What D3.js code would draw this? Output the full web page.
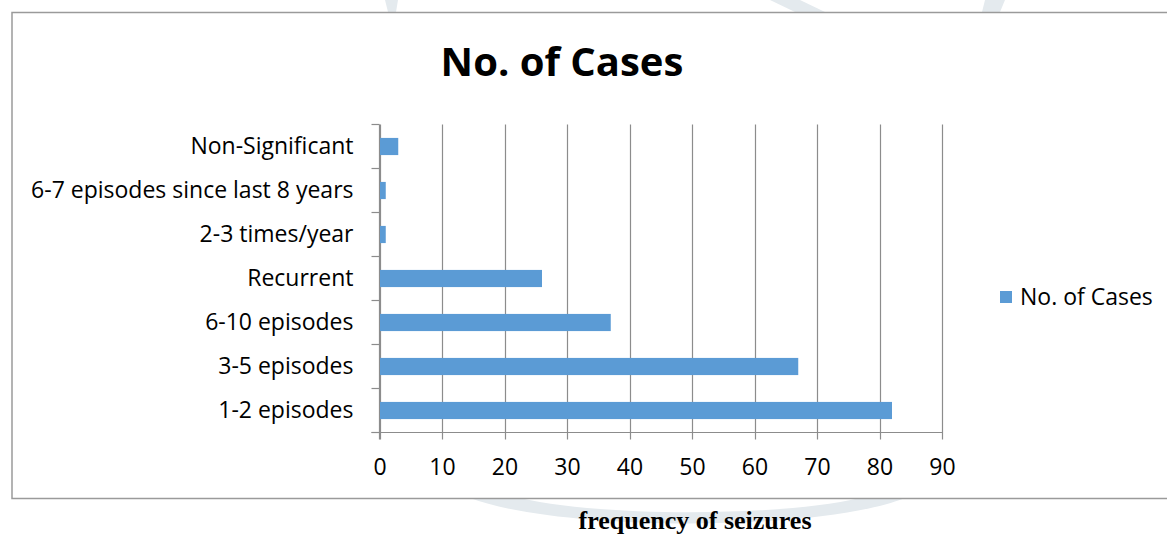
<!DOCTYPE html>
<html>
<head>
<meta charset="utf-8">
<script src="https://cdn.jsdelivr.net/npm/d3@7"></script>
<style>
  html, body { margin: 0; padding: 0; background: #fff; overflow: hidden; }
  svg { display: block; }
</style>
</head>
<body>
<script>
// Seizure frequency categories (top to bottom as drawn)
const categories = [
  "Non-Significant",
  "6-7 episodes since last 8 years",
  "2-3 times/year",
  "Recurrent",
  "6-10 episodes",
  "3-5 episodes",
  "1-2 episodes"
];
const cases = [3, 1, 1, 26, 37, 67, 82];
const xTicks = [0, 10, 20, 30, 40, 50, 60, 70, 80, 90];
const seriesName = "No. of Cases";
const chartTitle = "No. of Cases";
const caption = "frequency of seizures";

const W = 1167, H = 535;
const barColor = "#5b9bd5";
const gridColor = "#8c8c8c";
const labelFont = "'Open Sans', Lato, sans-serif";

const svg = d3.select("body").append("svg")
  .attr("width", W).attr("height", H);

// faint background emblem peeking out around the chart frame
const wm = svg.append("g").attr("fill", "#e4eaee");
wm.append("path").attr("d", "M470,498 C560,532 820,532 905,498 L860,498 C780,517 600,517 520,498 Z");
wm.append("path").attr("d", "M385,0 L398,0 L396,12 L388,12 Z");
wm.append("path").attr("d", "M770,0 L800,0 L825,12 L795,12 Z");
wm.append("path").attr("d", "M985,0 L1005,0 L1000,12 L982,12 Z");

// chart frame
svg.append("rect")
  .attr("x", 12).attr("y", 12.5)
  .attr("width", 1200).attr("height", 486)
  .attr("fill", "#fff")
  .attr("stroke", "#9a9a9a").attr("stroke-width", 1.5);

const plot = { left: 379.5, right: 942, top: 124.5, bottom: 432.5 };

const x = d3.scaleLinear().domain([0, 90]).range([plot.left, plot.right]);
const y = d3.scaleBand().domain(categories).range([plot.top, plot.bottom]).paddingInner(0.61).paddingOuter(0.305);
const yEdges = d3.scaleLinear().domain([0, categories.length]).range([plot.top, plot.bottom]);

// vertical gridlines with tick stubs below the axis
const gx = svg.append("g");
gx.selectAll("line").data(xTicks).join("line")
  .attr("x1", d => Math.round(x(d)) + 0.5).attr("x2", d => Math.round(x(d)) + 0.5)
  .attr("y1", plot.top).attr("y2", plot.bottom + 7)
  .attr("stroke", gridColor).attr("stroke-width", 1.2);

// bottom axis labels
const xAxis = d3.axisBottom(x).tickValues(xTicks).tickSize(0).tickPadding(0).tickFormat(d3.format("d"));
const xa = svg.append("g").attr("transform", `translate(0,${plot.bottom + 34})`).call(xAxis);
xa.select(".domain").remove();
xa.selectAll("text")
  .attr("font-family", labelFont).attr("font-size", 23).attr("fill", "#000")
  .attr("y", 0).attr("dy", "0.35em");

// bottom axis line
svg.append("line")
  .attr("x1", plot.left - 8).attr("x2", plot.right)
  .attr("y1", plot.bottom).attr("y2", plot.bottom)
  .attr("stroke", gridColor).attr("stroke-width", 1.2);

// left axis line and category boundary ticks
svg.append("line")
  .attr("x1", plot.left).attr("x2", plot.left)
  .attr("y1", plot.top).attr("y2", plot.bottom + 7)
  .attr("stroke", gridColor).attr("stroke-width", 1.2);
svg.append("g").selectAll("line").data(d3.range(categories.length + 1)).join("line")
  .attr("x1", plot.left - 8).attr("x2", plot.left)
  .attr("y1", d => yEdges(d)).attr("y2", d => yEdges(d))
  .attr("stroke", gridColor).attr("stroke-width", 1.2);

// bars
svg.append("g").selectAll("rect").data(categories).join("rect")
  .attr("x", x(0) + 0.5)
  .attr("y", d => y(d))
  .attr("width", (d, i) => x(cases[i]) - x(0) - 0.5)
  .attr("height", y.bandwidth())
  .attr("fill", barColor);

// category labels
const yAxis = d3.axisLeft(y).tickSize(0).tickPadding(26);
const ya = svg.append("g").attr("transform", `translate(${plot.left},0)`).call(yAxis);
ya.select(".domain").remove();
ya.selectAll("text")
  .attr("font-family", labelFont).attr("font-size", 23).attr("fill", "#000");

// title
svg.append("text")
  .attr("x", 562).attr("y", 76)
  .attr("text-anchor", "middle")
  .attr("font-family", labelFont).attr("font-weight", "bold").attr("font-size", 40)
  .attr("fill", "#000")
  .text(chartTitle);

// legend
const lg = svg.append("g").attr("transform", "translate(1000,291)");
lg.append("rect").attr("width", 12).attr("height", 12).attr("fill", barColor);
lg.append("text").attr("x", 20).attr("y", 6).attr("dy", "0.35em")
  .attr("font-family", labelFont).attr("font-size", 23).attr("fill", "#000")
  .text(seriesName);

// caption under the chart
svg.append("text")
  .attr("x", 695).attr("y", 529)
  .attr("text-anchor", "middle")
  .attr("font-family", "'Liberation Serif', 'Times New Roman', serif")
  .attr("font-weight", "bold").attr("font-size", 26)
  .attr("fill", "#000")
  .text(caption);
</script>
</body>
</html>
